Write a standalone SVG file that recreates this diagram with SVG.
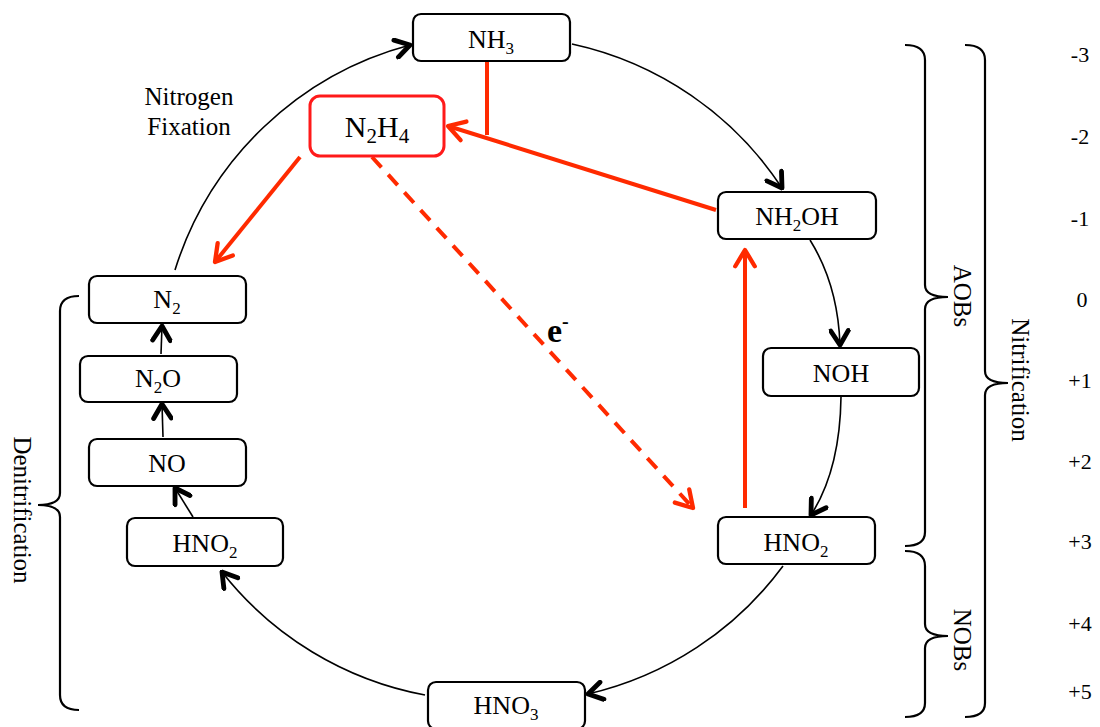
<svg xmlns="http://www.w3.org/2000/svg" width="1100" height="727" viewBox="0 0 1100 727">
<style>
.box{fill:#fff;stroke:#000;stroke-width:2.2}
.rbox{fill:#fff;stroke:#ff1a1a;stroke-width:3}
.t{font-family:"Liberation Serif",serif;font-size:26px;fill:#000;text-anchor:middle}
.big{font-size:30px}
.lab{font-family:"Liberation Serif",serif;font-size:25px;fill:#000;text-anchor:middle}
.num{font-family:"Liberation Serif",serif;font-size:22px;fill:#000;text-anchor:middle}
.c{fill:none;stroke:#000;stroke-width:1.6}
.r{fill:none;stroke:#ff2a00;stroke-width:4}
.br{fill:none;stroke:#000;stroke-width:2.2}
</style>
<defs>
<marker id="ab" viewBox="0 0 20 20" refX="18" refY="10" markerWidth="22" markerHeight="22" markerUnits="userSpaceOnUse" orient="auto">
<path d="M5,2 L18,10 L5,18" fill="none" stroke="#000" stroke-width="4.4" stroke-linecap="round" stroke-linejoin="round"/>
</marker>
<marker id="ar" viewBox="0 0 24 24" refX="21" refY="12" markerWidth="26" markerHeight="26" markerUnits="userSpaceOnUse" orient="auto">
<path d="M6,3 L21,12 L6,21" fill="none" stroke="#ff2a00" stroke-width="4" stroke-linecap="round" stroke-linejoin="round"/>
</marker>
</defs>

<g id="connectors">
<path class="c" d="M175,270 A337,337 0 0,1 410,45" marker-end="url(#ab)"/>
<path class="c" d="M572,44 A337,337 0 0,1 782,188" marker-end="url(#ab)"/>
<path class="c" d="M810,240 Q838,285 840,345" marker-end="url(#ab)"/>
<path class="c" d="M841,397 Q840,470 811,515" marker-end="url(#ab)"/>
<path class="c" d="M783,566 A337,337 0 0,1 588,694" marker-end="url(#ab)"/>
<path class="c" d="M425,695 A337,337 0 0,1 222,572" marker-end="url(#ab)"/>
<path class="c" d="M193,517 L175,488" marker-end="url(#ab)"/>
<path class="c" d="M163,437 L162,404" marker-end="url(#ab)"/>
<path class="c" d="M161,354 L162,326" marker-end="url(#ab)"/>
<path class="r" d="M716,210 L448,126" marker-end="url(#ar)"/>
<path class="r" d="M487,62 L487,135"/>
<path class="r" d="M300,157 L215,262" marker-end="url(#ar)"/>
<path class="r" d="M372,157 L693,508" stroke-dasharray="14,10" marker-end="url(#ar)"/>
<path class="r" d="M745,508 L745,250" marker-end="url(#ar)"/>
</g>

<g id="NH3"><rect class="box" x="413" y="14" width="157" height="47" rx="8"/><text class="t" x="491" y="48">NH<tspan font-size="17" dy="6">3</tspan></text></g>
<g id="N2H4"><rect class="rbox" x="310" y="96" width="134" height="60" rx="10"/><text class="t big" x="377" y="137">N<tspan font-size="21" dy="6">2</tspan><tspan dy="-6">H</tspan><tspan font-size="21" dy="6">4</tspan></text></g>
<g id="NH2OH"><rect class="box" x="718" y="192" width="158" height="47" rx="8"/><text class="t" x="797" y="225">NH<tspan font-size="17" dy="6">2</tspan><tspan dy="-6">OH</tspan></text></g>
<g id="NOH"><rect class="box" x="763" y="348" width="156" height="48" rx="8"/><text class="t" x="841" y="382">NOH</text></g>
<g id="HNO2r"><rect class="box" x="718" y="517" width="157" height="47" rx="8"/><text class="t" x="796" y="551">HNO<tspan font-size="17" dy="6">2</tspan></text></g>
<g id="HNO3"><rect class="box" x="428" y="682" width="157" height="47" rx="8"/><text class="t" x="506" y="714">HNO<tspan font-size="17" dy="6">3</tspan></text></g>
<g id="HNO2l"><rect class="box" x="127" y="518" width="156" height="48" rx="8"/><text class="t" x="205" y="552">HNO<tspan font-size="17" dy="6">2</tspan></text></g>
<g id="NO"><rect class="box" x="89" y="439" width="157" height="47" rx="8"/><text class="t" x="167" y="472">NO</text></g>
<g id="N2O"><rect class="box" x="80" y="356" width="157" height="46" rx="8"/><text class="t" x="158" y="387">N<tspan font-size="17" dy="6">2</tspan><tspan dy="-6">O</tspan></text></g>
<g id="N2"><rect class="box" x="89" y="276" width="157" height="47" rx="8"/><text class="t" x="167" y="308">N<tspan font-size="17" dy="6">2</tspan></text></g>

<g id="labels">
<text class="lab" x="189" y="105">Nitrogen</text>
<text class="lab" x="189" y="135">Fixation</text>
<text x="547" y="342" font-family="Liberation Serif,serif" font-size="34" font-weight="bold">e<tspan font-size="20" dy="-14">-</tspan></text>
</g>

<g id="braces">
<path class="br" d="M905,45 Q925,45 925,60 L925,285 Q925,297 948,297 Q925,297 925,309 L925,532 Q925,546 905,546"/>
<path class="br" d="M905,551 Q925,551 925,566 L925,624 Q925,636 948,636 Q925,636 925,648 L925,703 Q925,717 905,717"/>
<path class="br" d="M965,45 Q985,45 985,60 L985,371 Q985,383 1008,383 Q985,383 985,395 L985,703 Q985,717 965,717"/>
<path class="br" d="M79,296 Q60,296 60,311 L60,493 Q60,505 38,505 Q60,505 60,517 L60,695 Q60,710 79,710"/>
<text class="lab" font-size="24" transform="translate(954,296) rotate(90)">AOBs</text>
<text class="lab" font-size="24" transform="translate(954,640) rotate(90)">NOBs</text>
<text class="lab" transform="translate(1012,380) rotate(90)">Nitrification</text>
<text class="lab" transform="translate(14,510) rotate(90)">Denitrification</text>
</g>

<g id="oxidation">
<text class="num" x="1080" y="62">-3</text>
<text class="num" x="1080" y="144">-2</text>
<text class="num" x="1080" y="226">-1</text>
<text class="num" x="1082" y="307">0</text>
<text class="num" x="1080" y="388">+1</text>
<text class="num" x="1080" y="469">+2</text>
<text class="num" x="1080" y="549">+3</text>
<text class="num" x="1080" y="631">+4</text>
<text class="num" x="1080" y="699">+5</text>
</g>
</svg>
